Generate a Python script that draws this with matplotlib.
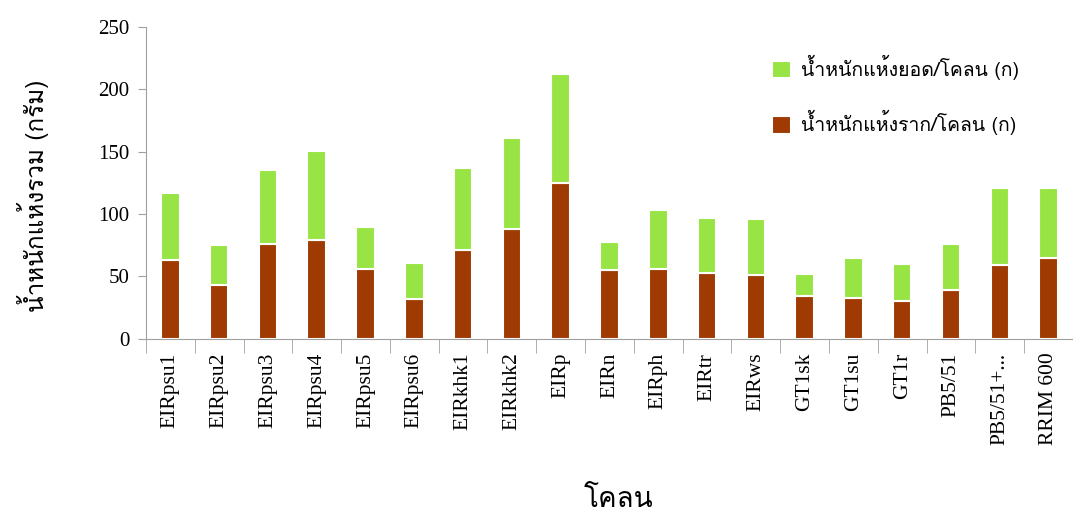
# dry weight per clone, stacked root + shoot
import matplotlib
matplotlib.use('Agg')
import matplotlib.pyplot as plt
from matplotlib import font_manager
from matplotlib.ft2font import FT2Font
import numpy as np

clones = ['EIRpsu1', 'EIRpsu2', 'EIRpsu3', 'EIRpsu4', 'EIRpsu5', 'EIRpsu6',
          'EIRkhk1', 'EIRkhk2', 'EIRp', 'EIRn', 'EIRph', 'EIRtr', 'EIRws',
          'GT1sk', 'GT1su', 'GT1r', 'PB5/51', 'PB5/51+...', 'RRIM 600']
root = [63, 43, 76, 79, 56, 32, 71, 88, 125, 55, 56, 53, 51, 34, 33, 30, 39, 59, 65]
total = [117, 75, 135, 151, 90, 61, 137, 161, 212, 78, 103, 97, 96, 52, 65, 60, 76, 121, 121]
shoot = [t - r for t, r in zip(total, root)]

label_shoot = 'น้ำหนักแห้งยอด/โคลน (ก)'
label_root = 'น้ำหนักแห้งราก/โคลน (ก)'
ylabel = 'น้ำหนักแห้งรวม (กรัม)'
xlabel = 'โคลน'


def thai_font():
    # look for any installed font that has Thai glyphs
    for f in font_manager.fontManager.ttflist:
        try:
            if 0x0E01 in FT2Font(f.fname).get_charmap():
                return f.name
        except Exception:
            pass
    return None


th = thai_font()
serif = ['Liberation Serif', 'DejaVu Serif']
thai_fam = ([th] if th else []) + serif + ['DejaVu Sans']
plt.rcParams['font.family'] = serif

fig = plt.figure(figsize=(10.73, 5.11), dpi=100)
ax = fig.add_axes([0.136, 0.337, 0.864, 0.61])

x = np.arange(len(clones))
ax.bar(x, root, width=0.38, color='#9E3A02', edgecolor='white', linewidth=1.5,
       label=label_root)
ax.bar(x, shoot, width=0.38, bottom=root, color='#98E445', edgecolor='white',
       linewidth=1.5, label=label_shoot)

ax.set_xlim(-0.5, len(clones) - 0.5)
ax.set_ylim(0, 250)
ax.set_yticks(range(0, 251, 50))
ax.set_xticks(x)
ax.set_xticklabels(clones, rotation=90, fontsize=15.5)
ax.set_xticks(np.arange(-0.5, len(clones), 1), minor=True)
ax.tick_params(axis='x', which='major', length=0, pad=10)
ax.tick_params(axis='x', which='minor', length=10, color='#A0A0A0')
ax.tick_params(axis='y', length=6, color='#A0A0A0', labelsize=15, pad=6)

for s in ['top', 'right']:
    ax.spines[s].set_visible(False)
for s in ['left', 'bottom']:
    ax.spines[s].set_color('#A0A0A0')

ax.set_ylabel(ylabel, family=thai_fam, fontsize=17.5)
ax.yaxis.set_label_coords(-0.105, 0.46)
ax.set_xlabel(xlabel, family=thai_fam, fontsize=20)
ax.xaxis.set_label_coords(0.51, -0.475)

h, l = ax.get_legend_handles_labels()
ax.legend(h[::-1], l[::-1], loc='upper left', bbox_to_anchor=(0.675, 0.91),
          frameon=False, prop={'family': thai_fam, 'size': 14},
          borderpad=0, borderaxespad=0,
          labelspacing=1.55, handlelength=1.0, handleheight=1.0, handletextpad=0.5)

fig.savefig('out.png', dpi=100)
